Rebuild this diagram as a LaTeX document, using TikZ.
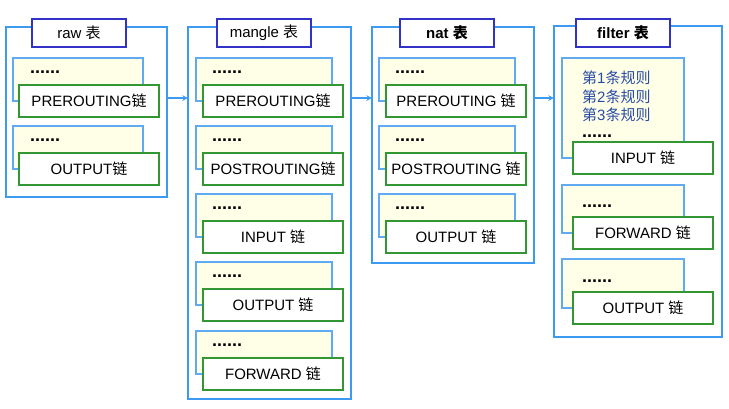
\documentclass[tikz,border=0pt]{standalone}
\usepackage{fontspec}
\setmainfont{Liberation Sans}
\newfontfamily\zhfont{Noto Sans CJK SC}
\newcommand{\zh}[1]{{\zhfont #1}}
\usepackage{tikz}
\usetikzlibrary{arrows,positioning,calc}

\definecolor{tabblue}{RGB}{60,155,240}
\definecolor{boxblue}{RGB}{95,170,240}
\definecolor{ruleyellow}{RGB}{255,255,232}
\definecolor{chaingreen}{RGB}{50,150,50}
\definecolor{titleblue}{RGB}{50,50,200}
\definecolor{ruletext}{RGB}{40,75,165}

\begin{document}
\begin{tikzpicture}[x=1pt,y=-1pt,
    font=\fontsize{15}{18}\selectfont,
    tabbox/.style={draw=tabblue,line width=2pt,fill=white},
    titlebox/.style={draw=titleblue,line width=1.8pt,fill=white,minimum width=94,minimum height=28,inner sep=0pt},
    rulebox/.style={draw=boxblue,line width=1.4pt,fill=ruleyellow},
    chainbox/.style={draw=chaingreen,line width=1.6pt,fill=white,minimum width=140,minimum height=32,inner sep=0pt},
    dots/.style={anchor=west,inner sep=0pt,font=\fontsize{18}{18}\selectfont\bfseries},
    arr/.style={-stealth,draw=tabblue,line width=1.5pt}]
\useasboundingbox (0,0) rectangle (729,408);

% raw table
\draw[tabbox] (6,27) rectangle (167,197);
\node[titlebox] (rawtitle) at (79,33) {raw \zh{表}};
\draw[rulebox] (13,58) rectangle (143,101);
\node[dots] (rawdots1) at (30,72) {......};
\node[chainbox] (rawpre) at (89,101) {PREROUTING\zh{链}};
\draw[rulebox] (13,126) rectangle (143,169);
\node[dots] (rawdots2) at (30,140) {......};
\node[chainbox] (rawout) at (89,169) {OUTPUT\zh{链}};
\coordinate (rawtab) at (167,98);

% mangle table
\draw[tabbox] (188,27) rectangle (351,399);
\node[titlebox] (mangletitle) at (264,33) {mangle \zh{表}};
\foreach \y/\name/\txt in {58/manglepre/PREROUTING\zh{链},
                           126/manglepost/POSTROUTING\zh{链},
                           194/manglein/INPUT \zh{链},
                           262/mangleout/OUTPUT \zh{链},
                           331/manglefwd/FORWARD \zh{链}}{
  \draw[rulebox] (196,\y) rectangle (332,\y+43);
  \node[dots] at (212,\y+14) {......};
  \node[chainbox] (\name) at (273,\y+43) {\txt};
}
\coordinate (mangletabin) at (188,98);
\coordinate (mangletabout) at (351,98);

% nat table
\draw[tabbox] (372,27) rectangle (534,263);
\node[titlebox] (nattitle) at (447,33) {\textbf{nat \zh{表}}};
\foreach \y/\name/\txt in {58/natpre/PREROUTING \zh{链},
                           126/natpost/POSTROUTING \zh{链},
                           194/natout/OUTPUT \zh{链}}{
  \draw[rulebox] (379,\y) rectangle (515,\y+43);
  \node[dots] at (395,\y+14) {......};
  \node[chainbox] (\name) at (456,\y+43) {\txt};
}
\coordinate (nattabin) at (372,98);
\coordinate (nattabout) at (534,98);

% filter table
\draw[tabbox] (554,26) rectangle (722,337);
\node[titlebox] (filtertitle) at (623,33) {\textbf{filter \zh{表}}};
\draw[rulebox] (562,58) rectangle (684,158);
\node[anchor=north west,inner sep=0pt,text=ruletext,align=left,font=\fontsize{15}{18.5}\selectfont] (rules) at (582,71)
  {\zh{第}1\zh{条规则}\\\zh{第}2\zh{条规则}\\\zh{第}3\zh{条规则}};
\node[dots] (filterdots1) at (582,136) {......};
\node[chainbox] (filterin) at (643,158) {INPUT \zh{链}};
\draw[rulebox] (562,185) rectangle (684,233);
\node[dots] (filterdots2) at (582,206) {......};
\node[chainbox] (filterfwd) at (643,233) {FORWARD \zh{链}};
\draw[rulebox] (562,259) rectangle (684,308);
\node[dots] (filterdots3) at (582,281) {......};
\node[chainbox] (filterout) at (643,308) {OUTPUT \zh{链}};
\coordinate (filtertabin) at (554,98);

% flow between tables
\draw[arr] (rawtab) -- (mangletabin);
\draw[arr] (mangletabout) -- (nattabin);
\draw[arr] (nattabout) -- (filtertabin);
\end{tikzpicture}
\end{document}
